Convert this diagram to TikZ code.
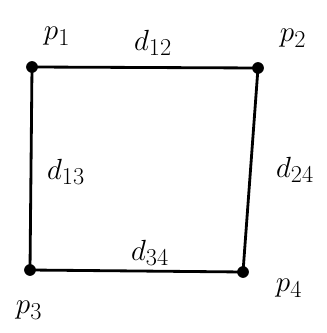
\documentclass[tikz,border=0pt]{standalone}
\usepackage{amsmath,amssymb}
\usepackage{tikz}
\usetikzlibrary{calc}
\tikzset{
  corner/.style = {circle, fill=black, inner sep=0pt, minimum size=10pt},
  side/.style = {line width=2.4pt},
  lbl/.style = {font=\fontsize{30}{34}\selectfont, inner sep=1pt}
}

\begin{document}
\begin{tikzpicture}
  \useasboundingbox (0,0) rectangle (9.78,9.99);

  % corners of the square
  \node[corner] (p1) at (0.96,7.98) {};
  \node[corner] (p2) at (7.74,7.95) {};
  \node[corner] (p3) at (0.90,1.89) {};
  \node[corner] (p4) at (7.29,1.83) {};

  \draw[side] (p1.center) -- (p2.center) -- (p4.center) -- (p3.center) -- cycle;

  % point names
  \node[lbl] (n1) at (1.71,8.91) {$p_1$};
  \node[lbl] (n2) at (8.79,8.85) {$p_2$};
  \node[lbl] (n3) at (0.87,0.69) {$p_3$};
  \node[lbl] (n4) at (8.67,1.35) {$p_4$};

  % distances
  \node[lbl] (d12) at (4.59,8.70) {$d_{12}$};
  \node[lbl] (d13) at (1.98,4.83) {$d_{13}$};
  \node[lbl] (d24) at (8.85,4.89) {$d_{24}$};
  \node[lbl] (d34) at (4.50,2.40) {$d_{34}$};

\end{tikzpicture}
\end{document}
